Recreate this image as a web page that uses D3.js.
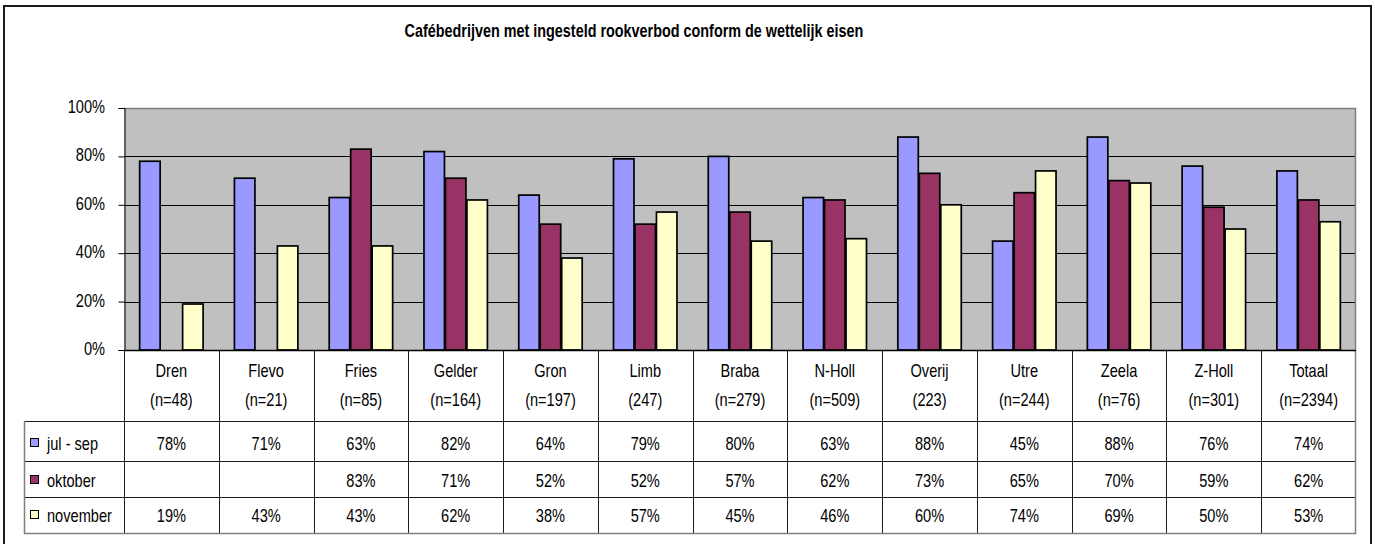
<!DOCTYPE html>
<html>
<head>
<meta charset="utf-8">
<script src="https://cdn.jsdelivr.net/npm/d3@7"></script>
<style>
  html, body { margin: 0; padding: 0; background: #fff; }
  svg { display: block; }
  text { font-family: "Liberation Sans", Arial, sans-serif; fill: #000; }
</style>
</head>
<body>
<svg id="chart" width="1375" height="544"></svg>
<script>
const title = "Cafébedrijven met ingesteld rookverbod conform de wettelijk eisen";
const categories = ["Dren","Flevo","Fries","Gelder","Gron","Limb","Braba","N-Holl","Overij","Utre","Zeela","Z-Holl","Totaal"];
const nLabels = ["(n=48)","(n=21)","(n=85)","(n=164)","(n=197)","(247)","(n=279)","(n=509)","(223)","(n=244)","(n=76)","(n=301)","(n=2394)"];
const seriesNames = ["jul - sep","oktober","november"];
const julSep   = [78,71,63,82,64,79,80,63,88,45,88,76,74];
const oktober  = [null,null,83,71,52,52,57,62,73,65,70,59,62];
const november = [19,43,43,62,38,57,45,46,60,74,69,50,53];
const yTicks = [0,20,40,60,80,100];
const colors = ["#9999FF","#993366","#FFFFCC"];

const seriesValues = [julSep, oktober, november];
const svg = d3.select("#chart");
const SY = 1.2;

function txt(g, x, y, s, anchor, size, weight, sy) {
  return g.append("text")
    .attr("transform", `translate(${x},${y}) scale(1,${sy || SY})`)
    .attr("text-anchor", anchor)
    .style("font-size", size + "px")
    .style("font-weight", weight || "normal")
    .text(s);
}

// outer frame
svg.append("rect").attr("x", 4).attr("y", 6).attr("width", 1367).attr("height", 620)
  .attr("fill", "none").attr("stroke", "#1a1a1a").attr("stroke-width", 2);

const L = 124, R = 1356, T = 108, B = 350;
const x0 = d3.scaleBand().domain(categories).range([L, R]).padding(0);
const bw = x0.bandwidth();
const x1 = d3.scaleBand().domain(seriesNames).range([bw * 0.16, bw * 0.84]).padding(0);
const y = d3.scaleLinear().domain([0, 100]).range([B, T]);

// title
txt(svg, 634, 37, title, "middle", 14.4, "bold", 1.26);

// plot background
svg.append("rect").attr("x", L).attr("y", T).attr("width", R - L).attr("height", B - T).attr("fill", "#C0C0C0");

// gridlines
svg.append("g").selectAll("line").data(yTicks.filter(t => t > 0 && t < 100)).join("line")
  .attr("x1", L).attr("x2", R).attr("y1", d => Math.round(y(d)) + 0.5).attr("y2", d => Math.round(y(d)) + 0.5)
  .attr("stroke", "#000").attr("stroke-width", 1);

// plot border top/right grey
svg.append("path").attr("d", `M${L},${T + 0.5}H${R - 0.5}V${B}`).attr("fill", "none")
  .attr("stroke", "#808080").attr("stroke-width", 1.5);

// bars
const groups = svg.append("g").selectAll("g").data(categories).join("g")
  .attr("transform", d => `translate(${x0(d)},0)`);
groups.selectAll("rect")
  .data((c, i) => seriesNames.map((s, j) => ({ s, j, v: seriesValues[j][i] })).filter(d => d.v != null))
  .join("rect")
  .attr("x", d => x1(d.s) + 0.5)
  .attr("width", x1.bandwidth() - 1)
  .attr("y", d => y(d.v))
  .attr("height", d => B - y(d.v))
  .attr("fill", d => colors[d.j])
  .attr("stroke", "#000").attr("stroke-width", 1.7);

// y axis
const yAxis = d3.axisLeft(y).tickValues(yTicks).tickSize(6).tickFormat("");
const ya = svg.append("g").attr("transform", `translate(${L + 0.5},0)`).call(yAxis);
ya.select(".domain").attr("stroke", "#000");
ya.selectAll(".tick line").attr("stroke", "#000");
yTicks.forEach(t => txt(svg, 105, y(t) + 5, t + "%", "end", 14.6));

// table
const rowTops = [421, 461, 497];
const rowBottom = 533;
const tbl = svg.append("g");
// category separators
tbl.selectAll("line.v").data(categories.slice(1)).join("line")
  .attr("x1", d => Math.round(x0(d)) + 0.5).attr("x2", d => Math.round(x0(d)) + 0.5)
  .attr("y1", B).attr("y2", rowBottom)
  .attr("stroke", "#1a1a1a");
// left axis continuation
tbl.append("line").attr("x1", L + 0.5).attr("x2", L + 0.5).attr("y1", B).attr("y2", rowBottom).attr("stroke", "#1a1a1a");
// horizontal lines
rowTops.forEach(ty => tbl.append("line").attr("x1", 24).attr("x2", R).attr("y1", ty + 0.5).attr("y2", ty + 0.5).attr("stroke", "#1a1a1a"));
// outer grey edges
tbl.append("path").attr("d", `M24.5,${rowTops[0]}V${rowBottom + 0.5}H${R - 0.5}V${B}`)
  .attr("fill", "none").attr("stroke", "#808080").attr("stroke-width", 1.5);
// x axis line
svg.append("line").attr("x1", L).attr("x2", R).attr("y1", B + 0.5).attr("y2", B + 0.5).attr("stroke", "#000").attr("stroke-width", 1.3);

// header labels
categories.forEach((c, i) => {
  const cx = x0(c) + bw / 2;
  txt(tbl, cx, 377, c, "middle", 14.6);
  txt(tbl, cx, 406, nLabels[i], "middle", 14.6);
});

// rows
const baselines = [450, 487, 522];
seriesNames.forEach((s, j) => {
  tbl.append("rect").attr("x", 30.5).attr("y", baselines[j] - 11.5).attr("width", 8).attr("height", 8)
    .attr("fill", colors[j]).attr("stroke", "#000").attr("stroke-width", 1);
  txt(tbl, 47, baselines[j], s, "start", 14.6);
  categories.forEach((c, i) => {
    const v = seriesValues[j][i];
    if (v != null) txt(tbl, x0(c) + bw / 2, baselines[j], v + "%", "middle", 14.6);
  });
});
</script>
</body>
</html>
